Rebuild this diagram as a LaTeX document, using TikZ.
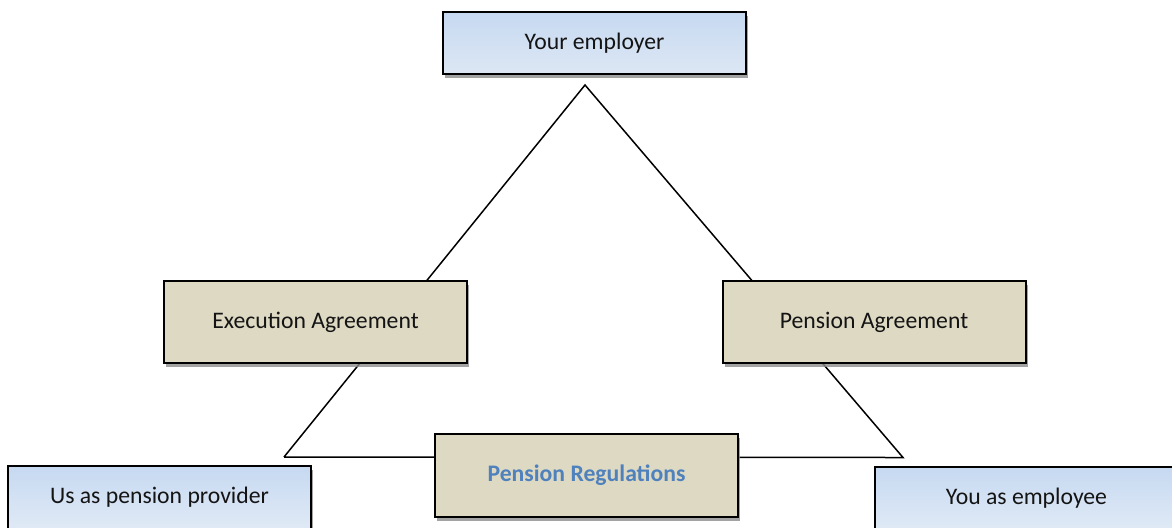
\documentclass[tikz,border=0pt]{standalone}
\usepackage{fontspec}
\setmainfont{Carlito}
\usetikzlibrary{shadows}
\definecolor{bluetop}{RGB}{198,217,241}
\definecolor{bluebot}{RGB}{221,231,244}
\definecolor{beige}{RGB}{221,217,195}
\definecolor{regblue}{RGB}{79,129,189}
\definecolor{txt}{RGB}{20,20,20}
\tikzset{
  boxbase/.style={draw=black, line width=1pt, rectangle, inner sep=0pt,
    font=\fontsize{11.85}{14}\selectfont, text=txt,
    drop shadow={shadow xshift=1.2pt, shadow yshift=-2.2pt, fill=black!45, opacity=0.8}},
  bluebox/.style={boxbase, top color=bluetop, bottom color=bluebot, minimum width=151.5pt, minimum height=31pt},
  tallblue/.style={boxbase, top color=bluetop, bottom color=bluebot!70!white, minimum width=151.5pt, minimum height=40pt},
  beigebox/.style={boxbase, fill=beige, minimum width=151.5pt, minimum height=41pt},
  triline/.style={draw=black, line width=0.75pt},
  boxtext/.style={font=\fontsize{11.85}{14}\selectfont, text=txt, yshift=4.5pt},
}
\begin{document}
\begin{tikzpicture}[x=0.5pt, y=-0.5pt]
\useasboundingbox (0,0) rectangle (1172,527);
\clip (0,0) rectangle (1172,527);
% triangle corners
\coordinate (apex) at (585,85);
\coordinate (lc) at (284,457);
\coordinate (rc) at (903,457.5);
\draw[triline] (lc) -- (apex) -- (rc) -- (lc);
% boxes
\node[bluebox] (employer) at (594.5,43) {Your employer};
\node[beigebox] (exec) at (315.5,322) {Execution Agreement};
\node[beigebox] (pagree) at (874,322) {Pension Agreement};
\node[beigebox, minimum height=41.5pt, text=regblue, font=\fontsize{11.85}{14}\selectfont\bfseries] (preg) at (586.5,475.5) {Pension Regulations};
\node[tallblue, label={[boxtext]center:Us as pension provider}] (provider) at (159.5,506) {};
\node[tallblue, label={[boxtext]center:You as employee}] (employee) at (1026.5,507) {};
\end{tikzpicture}
\end{document}
